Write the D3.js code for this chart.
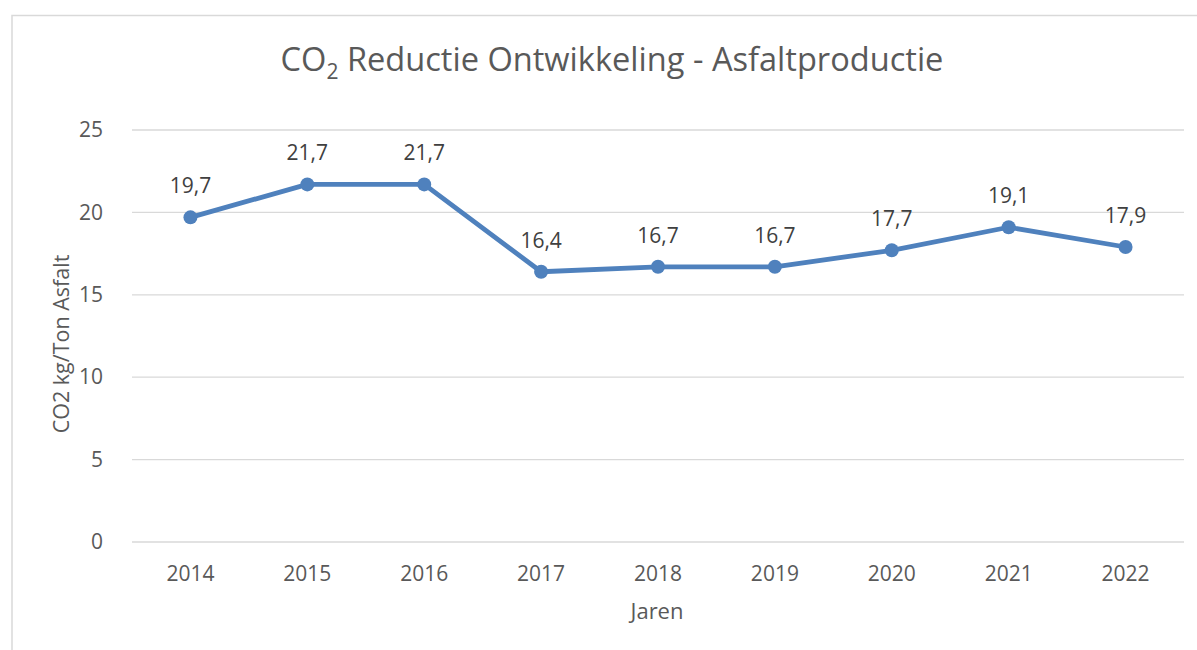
<!DOCTYPE html>
<html>
<head>
<meta charset="utf-8">
<script src="https://cdn.jsdelivr.net/npm/d3@7"></script>
<style>
  body { margin: 0; background: #fff; }
  text { font-family: "Open Sans", "Liberation Sans", sans-serif; }
</style>
</head>
<body>
<div id="chart"></div>
<script>
var years = ["2014", "2015", "2016", "2017", "2018", "2019", "2020", "2021", "2022"];
var values = [19.7, 21.7, 21.7, 16.4, 16.7, 16.7, 17.7, 19.1, 17.9];
var yTicks = [0, 5, 10, 15, 20, 25];

var W = 1197, H = 650;
var margin = {top: 130, right: 13, bottom: 108, left: 132};
var width = W - margin.left - margin.right;
var height = H - margin.top - margin.bottom;

var svg = d3.select("#chart").append("svg")
    .attr("width", W)
    .attr("height", H);

// chart frame
svg.append("rect")
    .attr("x", 12).attr("y", 15.5)
    .attr("width", W).attr("height", H)
    .attr("fill", "none")
    .attr("stroke", "#d9d9d9")
    .attr("stroke-width", 1.5);

var g = svg.append("g")
    .attr("transform", "translate(" + margin.left + "," + margin.top + ")");

var x = d3.scaleBand().domain(years).range([0, width]);
var y = d3.scaleLinear().domain([0, 25]).range([height, 0]);

// gridlines
g.selectAll(".grid")
    .data(yTicks)
    .enter().append("line")
    .attr("x1", 0).attr("x2", width)
    .attr("y1", function(d) { return y(d); })
    .attr("y2", function(d) { return y(d); })
    .attr("stroke", "#d9d9d9")
    .attr("stroke-width", 1.3);

var yAxis = g.append("g")
    .call(d3.axisLeft(y).tickValues(yTicks).tickSize(0).tickPadding(29));
yAxis.select(".domain").remove();
yAxis.selectAll("text")
    .attr("fill", "#595959")
    .style("font-size", "21px");

var xAxis = g.append("g")
    .attr("transform", "translate(0," + height + ")")
    .call(d3.axisBottom(x).tickSize(0).tickPadding(24));
xAxis.select(".domain").remove();
xAxis.selectAll("text")
    .attr("fill", "#595959")
    .style("font-size", "21px");

var line = d3.line()
    .x(function(d, i) { return x(years[i]) + x.bandwidth() / 2; })
    .y(function(d) { return y(d); });

g.append("path")
    .datum(values)
    .attr("fill", "none")
    .attr("stroke", "#4f81bd")
    .attr("stroke-width", 4.8)
    .attr("stroke-linejoin", "round")
    .attr("d", line);

g.selectAll(".dot")
    .data(values)
    .enter().append("circle")
    .attr("cx", function(d, i) { return x(years[i]) + x.bandwidth() / 2; })
    .attr("cy", function(d) { return y(d); })
    .attr("r", 7)
    .attr("fill", "#4f81bd");

g.selectAll(".lbl")
    .data(values)
    .enter().append("text")
    .attr("x", function(d, i) { return x(years[i]) + x.bandwidth() / 2; })
    .attr("y", function(d) { return y(d) - 24; })
    .attr("text-anchor", "middle")
    .attr("fill", "#404040")
    .style("font-size", "21px")
    .text(function(d) { return d.toFixed(1).replace(".", ","); });

// title
var title = svg.append("text")
    .attr("x", 612)
    .attr("y", 71)
    .attr("text-anchor", "middle")
    .attr("fill", "#595959")
    .style("font-size", "32.6px");
title.append("tspan").text("CO");
title.append("tspan").attr("dy", 8).style("font-size", "21px").text("2");
title.append("tspan").attr("dy", -8).text(" Reductie Ontwikkeling - Asfaltproductie");

// axis titles
svg.append("text")
    .attr("transform", "translate(69," + 344 + ") rotate(-90)")
    .attr("text-anchor", "middle")
    .attr("fill", "#595959")
    .style("font-size", "21.5px")
    .text("CO2 kg/Ton Asfalt");

svg.append("text")
    .attr("x", 657)
    .attr("y", 619)
    .attr("text-anchor", "middle")
    .attr("fill", "#595959")
    .style("font-size", "22px")
    .text("Jaren");
</script>
</body>
</html>
